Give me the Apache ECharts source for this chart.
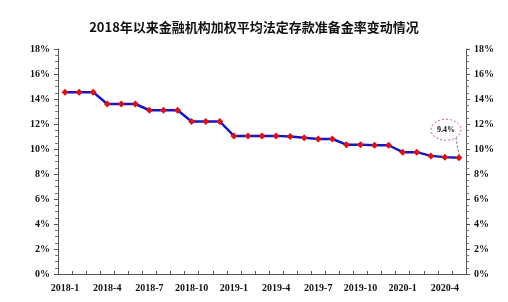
<!DOCTYPE html>
<html><head><meta charset="utf-8">
<script src="https://cdn.jsdelivr.net/npm/echarts@6/dist/echarts.min.js"></script>
<style>html,body{margin:0;padding:0;background:#fff}#c{width:508px;height:302px}</style>
</head><body><div id="c"></div>
<script>
const titleText = '2018年以来金融机构加权平均法定存款准备金率变动情况';
const months = ['2018-1','2018-2','2018-3','2018-4','2018-5','2018-6','2018-7','2018-8','2018-9','2018-10','2018-11','2018-12',
  '2019-1','2019-2','2019-3','2019-4','2019-5','2019-6','2019-7','2019-8','2019-9','2019-10','2019-11','2019-12',
  '2020-1','2020-2','2020-3','2020-4','2020-5'];
const rrr = [14.55,14.55,14.55,13.6,13.6,13.6,13.1,13.1,13.1,12.2,12.2,12.2,
  11.05,11.05,11.05,11.05,11.0,10.9,10.8,10.8,10.35,10.35,10.3,10.3,
  9.75,9.75,9.45,9.35,9.3];
const noteText = '9.4%';

const serif = '"Liberation Serif","Times New Roman","Noto Sans CJK SC",serif';
const chart = echarts.init(document.getElementById('c'));
const yAxisBase = {
  type:'value', min:0, max:18, interval:2,
  axisLine:{show:true,lineStyle:{color:'#555',width:1}},
  axisTick:{show:true,length:4,lineStyle:{color:'#555'}},
  minorTick:{show:true,splitNumber:4,length:3,lineStyle:{color:'#777'}},
  splitLine:{show:false},
  axisLabel:{formatter:'{value}%',fontFamily:serif,fontWeight:'bold',fontSize:10,color:'#111',margin:8}
};
chart.setOption({
  animation:false,
  backgroundColor:'#fff',
  title:{text:titleText,left:'center',top:16,textStyle:{fontFamily:'"Noto Sans CJK SC",serif',fontWeight:'bold',fontSize:13,color:'#111'}},
  grid:{left:58,right:42,top:49,bottom:28},
  xAxis:{type:'category',data:months,boundaryGap:true,
    axisLine:{lineStyle:{color:'#555'}},
    axisTick:{show:true,inside:true,length:3,interval:0,lineStyle:{color:'#555'}},
    axisLabel:{interval:2,fontFamily:serif,fontWeight:'bold',fontSize:10,color:'#111',margin:9}},
  yAxis:[Object.assign({position:'left'},yAxisBase),Object.assign({position:'right'},yAxisBase)],
  series:[{type:'line',data:rrr,yAxisIndex:0,
    lineStyle:{color:'#1515c8',width:2.5},
    symbol:'diamond',symbolSize:7,showAllSymbol:true,
    itemStyle:{color:'#e01010',borderWidth:0}}]
});
const last = chart.convertToPixel({gridIndex:0},[months.length-1, rrr[rrr.length-1]]);
const cx = last[0]-13, cy = last[1]-28;
chart.setOption({graphic:[
  {type:'line',shape:{x1:cx+10,y1:cy+8,x2:last[0],y2:last[1]-3},style:{stroke:'#333',lineWidth:0.8,lineDash:[2,2]},z:100},
  {type:'ellipse',shape:{cx:cx,cy:cy,rx:15,ry:10.5},style:{fill:'#fff',stroke:'#c04040',lineWidth:0.8,lineDash:[2,2]},z:100},
  {type:'text',x:cx,y:cy,style:{text:noteText,fill:'#111',font:'bold 8px '+serif,textAlign:'center',textVerticalAlign:'middle'},z:101}
]});
</script></body></html>
